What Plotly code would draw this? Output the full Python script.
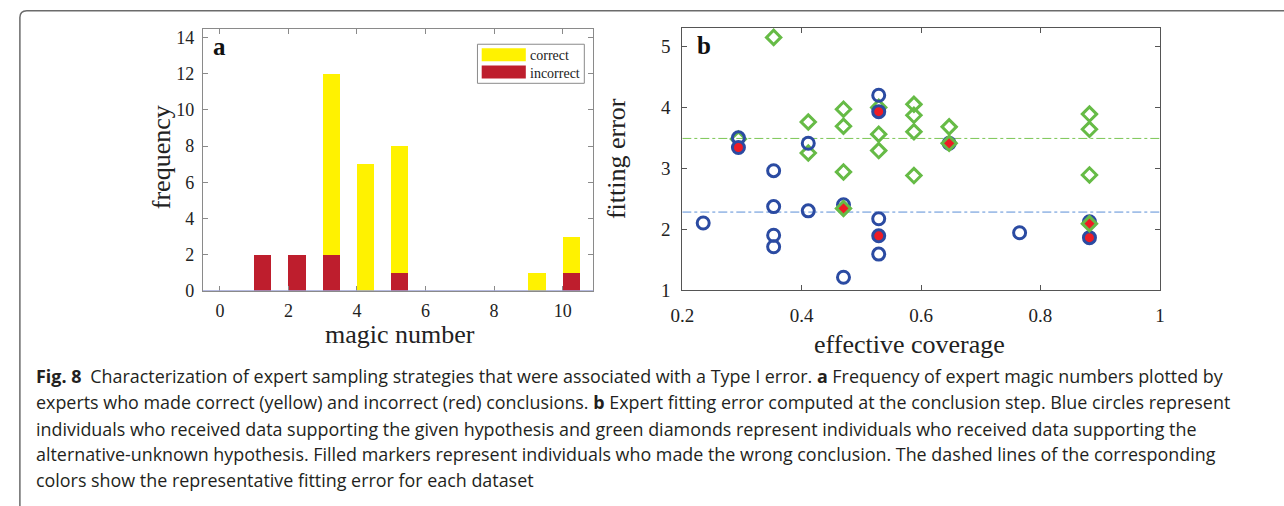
import plotly.graph_objects as go

# ---- panel a: magic-number histogram ----
magic_numbers = [0, 1, 2, 3, 4, 5, 6, 7, 8, 9, 10]
incorrect_counts = [0, 2, 2, 2, 0, 1, 0, 0, 0, 0, 1]
correct_counts = [0, 0, 0, 10, 7, 7, 0, 0, 0, 1, 2]
freq_ticks = [0, 2, 4, 6, 8, 10, 12, 14]
magic_ticks = [0, 2, 4, 6, 8, 10]

# ---- panel b: fitting error vs effective coverage ----
given_open_x = [0.235, 0.294, 0.353, 0.353, 0.353, 0.353, 0.411, 0.411, 0.470, 0.470,
                0.529, 0.529, 0.529, 0.765, 0.882]
given_open_y = [2.10, 3.50, 2.96, 2.37, 1.90, 1.71, 3.41, 2.30, 2.40, 1.21,
                4.20, 2.17, 1.59, 1.94, 2.12]
given_wrong_x = [0.294, 0.529, 0.529, 0.647, 0.882]
given_wrong_y = [3.34, 3.93, 1.89, 3.41, 1.86]
alt_open_x = [0.294, 0.353, 0.411, 0.411, 0.470, 0.470, 0.470, 0.529, 0.529, 0.529,
              0.588, 0.588, 0.588, 0.588, 0.647, 0.882, 0.882, 0.882]
alt_open_y = [3.48, 5.15, 3.76, 3.25, 3.97, 3.69, 2.94, 4.00, 3.56, 3.29,
              4.05, 3.87, 3.60, 2.88, 3.68, 3.89, 3.64, 2.89]
alt_wrong_x = [0.470, 0.647, 0.882]
alt_wrong_y = [2.34, 3.41, 2.09]
alt_representative = 3.49
given_representative = 2.28
coverage_ticks = [0.2, 0.4, 0.6, 0.8, 1.0]
coverage_labels = ["0.2", "0.4", "0.6", "0.8", "1"]
error_ticks = [1, 2, 3, 4, 5]

caption_lines = [
    "<b>Fig. 8</b>\u2002Characterization of expert sampling strategies that were associated with a Type I error. "
    "<b>a</b> Frequency of expert magic numbers plotted by",
    "experts who made correct (yellow) and incorrect (red) conclusions. <b>b</b> Expert fitting error computed "
    "at the conclusion step. Blue circles represent",
    "individuals who received data supporting the given hypothesis and green diamonds represent individuals "
    "who received data supporting the",
    "alternative-unknown hypothesis. Filled markers represent individuals who made the wrong conclusion. "
    "The dashed lines of the corresponding",
    "colors show the representative fitting error for each dataset",
]

W, H = 1284, 506
YELLOW = "#FFF200"
RED_BAR = "#BE1E2D"
BLUE = "#2B4BA2"
GREEN = "#66BB46"
RED_FILL = "#EE1C25"
SERIF = "Liberation Serif, Times New Roman, serif"
SANS = "Open Sans, Noto Sans, sans-serif"


def px(x):
    return x / W


def py(y):
    return 1 - y / H


fig = go.Figure()

fig.add_trace(go.Bar(x=magic_numbers, y=incorrect_counts, width=0.5, offset=0,
                     marker=dict(color=RED_BAR, line=dict(width=0)),
                     name="incorrect", xaxis="x", yaxis="y"))
fig.add_trace(go.Bar(x=magic_numbers, y=correct_counts, width=0.5, offset=0,
                     marker=dict(color=YELLOW, line=dict(width=0)),
                     name="correct", xaxis="x", yaxis="y"))

# representative fitting-error levels
fig.add_trace(go.Scatter(x=[0.2, 1.0], y=[alt_representative] * 2, mode="lines",
                         line=dict(color="#7CC655", width=1, dash="dashdot"),
                         xaxis="x2", yaxis="y2", hoverinfo="skip"))
fig.add_trace(go.Scatter(x=[0.2, 1.0], y=[given_representative] * 2, mode="lines",
                         line=dict(color="#5B8FD6", width=1, dash="dashdot"),
                         xaxis="x2", yaxis="y2", hoverinfo="skip"))

fig.add_trace(go.Scatter(x=alt_open_x, y=alt_open_y, mode="markers",
                         marker=dict(symbol="diamond", size=11, color="rgba(0,0,0,0)",
                                     line=dict(color=GREEN, width=3)),
                         xaxis="x2", yaxis="y2", name="alternative"))
fig.add_trace(go.Scatter(x=given_open_x, y=given_open_y, mode="markers",
                         marker=dict(symbol="circle", size=12, color="rgba(0,0,0,0)",
                                     line=dict(color=BLUE, width=3)),
                         xaxis="x2", yaxis="y2", name="given"))
fig.add_trace(go.Scatter(x=given_wrong_x, y=given_wrong_y, mode="markers",
                         marker=dict(symbol="circle", size=12, color=RED_FILL,
                                     line=dict(color=BLUE, width=3)),
                         xaxis="x2", yaxis="y2", name="given (wrong)"))
fig.add_trace(go.Scatter(x=alt_wrong_x, y=alt_wrong_y, mode="markers",
                         marker=dict(symbol="diamond", size=11, color=RED_FILL,
                                     line=dict(color=GREEN, width=3)),
                         xaxis="x2", yaxis="y2", name="alternative (wrong)"))

common = dict(ticks="inside", ticklen=5, showline=True, mirror="ticks",
              showgrid=False, zeroline=False, linewidth=1)
font_a = dict(family=SERIF, size=18, color="#222")
font_b = dict(family=SERIF, size=19, color="#222")

fig.update_layout(
    width=W, height=H, margin=dict(l=0, r=0, t=0, b=0),
    paper_bgcolor="white", plot_bgcolor="white",
    barmode="stack", showlegend=False,
    xaxis=dict(domain=[px(193.3), px(589.3)], range=[-0.5, 10.9],
               tickvals=magic_ticks, linecolor="#8a8a8a", tickcolor="#8a8a8a",
               anchor="y", ticklabelstandoff=3, tickfont=font_a, **common),
    yaxis=dict(domain=[py(297), py(29)], range=[0, 14.45],
               tickvals=freq_ticks, linecolor="#8a8a8a", tickcolor="#8a8a8a",
               anchor="x", ticklabelstandoff=4, tickfont=font_a, **common),
    xaxis2=dict(domain=[px(679.3), px(1163.3)], range=[0.2, 1.0],
                tickvals=coverage_ticks, ticktext=coverage_labels,
                linecolor="#555", tickcolor="#555", anchor="y2",
                ticklabelstandoff=8, tickfont=font_b, **common),
    yaxis2=dict(domain=[py(296), py(27.3)], range=[1, 5.31],
                tickvals=error_ticks, linecolor="#555", tickcolor="#555",
                anchor="x2", ticklabelstandoff=7, tickfont=font_b, **common),
)

# bar baseline at zero
fig.add_shape(type="line", xref="x", yref="y", x0=-0.5, x1=10.9, y0=0, y1=0,
              line=dict(color="#9EA3D4", width=1.5))

# legend box for panel a
fig.add_shape(type="rect", xref="paper", yref="paper",
              x0=px(471.7), x1=px(580), y0=py(84.3), y1=py(44.3),
              line=dict(color="#8a8a8a", width=1), fillcolor="white")
fig.add_shape(type="rect", xref="paper", yref="paper",
              x0=px(476), x1=px(520.7), y0=py(61.7), y1=py(48.3),
              line=dict(width=0), fillcolor=YELLOW)
fig.add_shape(type="rect", xref="paper", yref="paper",
              x0=px(476), x1=px(520.7), y0=py(79.3), y1=py(66),
              line=dict(width=0), fillcolor=RED_BAR)

annotations = [
    dict(text="correct", x=px(523), y=py(56), xanchor="left", yanchor="middle",
         font=dict(family=SERIF, size=14, color="#222")),
    dict(text="incorrect", x=px(523), y=py(74), xanchor="left", yanchor="middle",
         font=dict(family=SERIF, size=14, color="#222")),
    dict(text="<b>a</b>", x=px(210), y=py(47), xanchor="center", yanchor="middle",
         font=dict(family=SERIF, size=25, color="#111")),
    dict(text="<b>b</b>", x=px(701), y=py(46), xanchor="center", yanchor="middle",
         font=dict(family=SERIF, size=25, color="#111")),
    dict(text="frequency", x=px(151), y=py(160), textangle=-90, xanchor="center",
         yanchor="middle", font=dict(family=SERIF, size=26, color="#222")),
    dict(text="magic number", x=px(393), y=py(342), xanchor="center", yanchor="middle",
         font=dict(family=SERIF, size=26, color="#222")),
    dict(text="fitting error", x=px(612), y=py(161), textangle=-90, xanchor="center",
         yanchor="middle", font=dict(family=SERIF, size=26, color="#222")),
    dict(text="effective coverage", x=px(910), y=py(352), xanchor="center",
         yanchor="middle", font=dict(family=SERIF, size=26, color="#222")),
]

caption_y = [384, 411, 438, 464, 491]
for line, yy in zip(caption_lines, caption_y):
    annotations.append(dict(text=line, x=px(22), y=py(yy), xanchor="left",
                            yanchor="middle",
                            font=dict(family=SANS, size=17.9, color="#231F20")))

for a in annotations:
    a.update(xref="paper", yref="paper", showarrow=False)
fig.update_layout(annotations=annotations)

# rounded frame around the figure
rx, ry = 7 / W, 7 / H
x0, y0 = px(8), py(10)
fig.add_shape(type="path", xref="paper", yref="paper",
              path=(f"M {x0},-0.05 L {x0},{y0 - ry} Q {x0},{y0} {x0 + rx},{y0} "
                    f"L 1.05,{y0}"),
              line=dict(color="#6b6b6b", width=1.5))

fig.write_html("out.html")
